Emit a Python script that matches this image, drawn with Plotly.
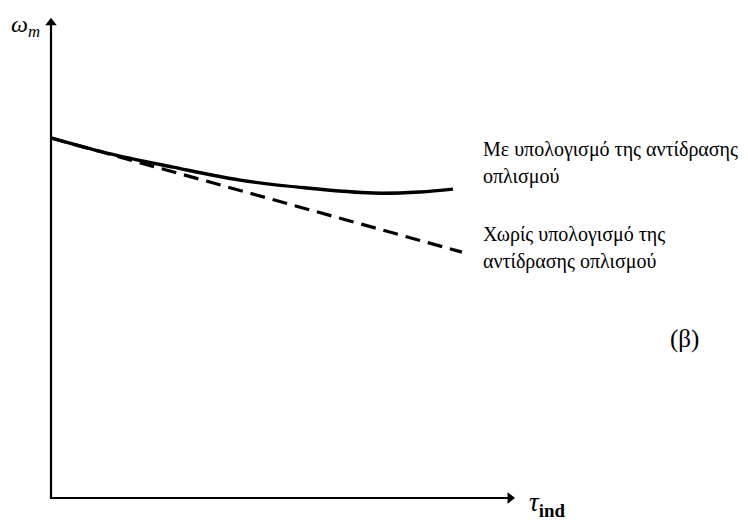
import plotly.graph_objects as go

# Data (normalised torque / speed)
tau_with = [0.0, 0.136, 0.297, 0.46, 0.623, 0.783, 0.898, 0.978]
w_with = [1.0, 0.958, 0.919, 0.883, 0.861, 0.847, 0.850, 0.858]
tau_without = [0.0, 1.0]
w_without = [1.0, 0.683]

label_with = ["Με υπολογισμό της αντίδρασης", "οπλισμού"]
label_without = ["Χωρίς υπολογισμό της", "αντίδρασης οπλισμού"]
panel_label = "(β)"

FONT = "Liberation Serif"
BLACK = "black"

# axis extents (data units)
Y_TIP = 1.336
X_TIP = 1.131

fig = go.Figure()
# axes
fig.add_trace(go.Scatter(x=[0, 0, X_TIP - 0.01], y=[Y_TIP - 0.01, 0, 0], mode="lines",
                         line=dict(color=BLACK, width=2.2), showlegend=False, hoverinfo="skip"))
fig.add_trace(go.Scatter(x=[0], y=[Y_TIP - 0.016], mode="markers",
                         marker=dict(symbol="triangle-up", size=10, color=BLACK), showlegend=False, hoverinfo="skip"))
fig.add_trace(go.Scatter(x=[X_TIP - 0.014], y=[0], mode="markers",
                         marker=dict(symbol="triangle-right", size=10, color=BLACK), showlegend=False, hoverinfo="skip"))
# curves
fig.add_trace(go.Scatter(x=tau_with, y=w_with, mode="lines",
                         line=dict(color=BLACK, width=3.4, shape="spline"), showlegend=False))
fig.add_trace(go.Scatter(x=tau_without, y=w_without, mode="lines",
                         line=dict(color=BLACK, width=3.2, dash="15px,8px"), showlegend=False))

# axis labels
fig.add_annotation(x=-0.061, y=1.312, xref="x", yref="y", text="<i>ω<sub>m</sub></i>", showarrow=False,
                   font=dict(family=FONT, size=24, color=BLACK))
fig.add_annotation(x=1.159, y=-0.017, xref="x", yref="y", xanchor="left", yanchor="middle",
                   text="<i>τ</i><sub><b>ind</b></sub>", showarrow=False,
                   font=dict(family=FONT, size=27, color=BLACK))

# curve labels
for txt, yv in zip(label_with, [0.969, 0.892]):
    fig.add_annotation(x=1.047, y=yv, xref="x", yref="y", xanchor="left", yanchor="middle",
                       text=txt, showarrow=False, font=dict(family=FONT, size=20, color=BLACK))
for txt, yv in zip(label_without, [0.733, 0.656]):
    fig.add_annotation(x=1.047, y=yv, xref="x", yref="y", xanchor="left", yanchor="middle",
                       text=txt, showarrow=False, font=dict(family=FONT, size=20, color=BLACK))

fig.add_annotation(x=1.5426, y=0.4417, xref="x", yref="y", text=panel_label, showarrow=False,
                   font=dict(family=FONT, size=25, color=BLACK))

fig.update_layout(width=740, height=516, margin=dict(l=0, r=0, t=0, b=0),
                  paper_bgcolor="white", plot_bgcolor="white",
                  xaxis=dict(range=[-0.1046, 1.696], visible=False),
                  yaxis=dict(range=[-0.0722, 1.361], visible=False))
fig.write_html("out.html")
